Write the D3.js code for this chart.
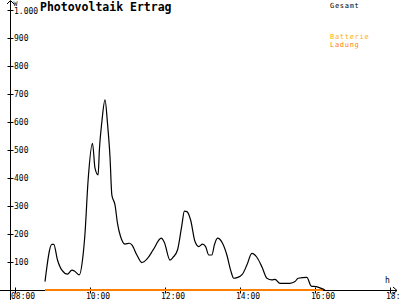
<!DOCTYPE html>
<html>
<head>
<meta charset="utf-8">
<script src="https://cdn.jsdelivr.net/npm/d3@7"></script>
<style>
  body { margin: 0; background: #fff; }
  svg { display: block; }
  text { font-family: "DejaVu Sans Mono", monospace; font-size: 8px; }
  .legend { font-size: 7px; letter-spacing: 0.7px; }
</style>
</head>
<body>
<div id="chart"></div>
<script>
// Gesamt (W)
const times = ["8:48","8:59","9:02","9:08","9:15","9:24","9:31","9:35","9:43","9:48",
  "9:52","9:57","10:04","10:08","10:13","10:15","10:19","10:24","10:28","10:32",
  "10:35","10:40","10:44","10:49","10:56","11:03","11:07","11:15","11:23","11:31",
  "11:41","11:54","11:59","12:08","12:13","12:20","12:27","12:31","12:35","12:41",
  "12:48","12:54","13:00","13:05","13:10","13:15","13:19","13:24","13:32","13:39",
  "13:45","13:50","13:55","14:04","14:11","14:19","14:27","14:35","14:43","14:51",
  "14:56","15:04","15:20","15:28","15:33","15:47","15:54","16:02","16:11","16:16"];
const gesamt = [30,163,163,107,71,57,71,68,54,107,
  202,393,524,435,411,500,601,679,595,476,
  339,304,238,190,164,167,161,125,98,110,
  143,185,170,107,117,143,232,282,280,250,
  173,155,164,155,125,125,161,185,167,125,
  71,42,44,57,89,131,117,83,42,36,
  38,24,24,30,42,45,14,12,5,0];

// Ladung (W), flat at zero
const ladungTimes = ["8:48","16:13"];
const ladung = [0, 0];

const xTicks = [8, 10, 12, 14, 16, 18];
const xTickLabels = ["08:00","10:00","12:00","14:00","16:00","18:00"];
const yTicks = [100,200,300,400,500,600,700,800,900,1000];
const yTickLabels = ["100","200","300","400","500","600","700","800","900","1.000"];

const toHours = s => { const p = s.split(":"); return +p[0] + +p[1] / 60; };

const svg = d3.select("#chart").append("svg")
  .attr("width", 400)
  .attr("height", 300);

const x = d3.scaleLinear().domain([8, 18]).range([15, 390]);
const y = d3.scaleLinear().domain([0, 1000]).range([290, 10]);

// axes lines
svg.append("line").attr("x1", 0).attr("x2", 397).attr("y1", 290.5).attr("y2", 290.5)
  .attr("stroke", "#000");
svg.append("line").attr("x1", 10.5).attr("x2", 10.5).attr("y1", 1).attr("y2", 300)
  .attr("stroke", "#000");
// arrow heads
svg.append("path").attr("d", "M7,4 L10.5,0.5 L14,4").attr("fill", "none").attr("stroke", "#000");
svg.append("path").attr("d", "M393,287 L397,290.5 L393,294").attr("fill", "none").attr("stroke", "#000");

// x ticks
const xAxis = svg.append("g")
  .attr("transform", "translate(0,290.5)")
  .call(d3.axisBottom(x).tickValues(xTicks).tickSize(3).tickFormat((d, i) => xTickLabels[i]));
xAxis.select(".domain").remove();
xAxis.selectAll(".tick line").attr("y1", -3).attr("y2", 3).attr("stroke", "#000");
xAxis.selectAll(".tick text")
  .attr("text-anchor", "start")
  .attr("dx", -4.5)
  .attr("y", 2.5)
  .attr("fill", "#000")
  .style("font-family", "'DejaVu Sans Mono', monospace")
  .style("font-size", "8px");

// y ticks
const yAxis = svg.append("g")
  .attr("transform", "translate(10.5,0)")
  .call(d3.axisRight(y).tickValues(yTicks).tickSize(3).tickFormat((d, i) => yTickLabels[i]));
yAxis.select(".domain").remove();
yAxis.selectAll(".tick line").attr("x1", -3).attr("x2", 3).attr("stroke", "#000");
yAxis.selectAll(".tick text")
  .attr("x", 3.5)
  .attr("fill", "#000")
  .style("font-family", "'DejaVu Sans Mono', monospace")
  .style("font-size", "8px");
yAxis.selectAll(".tick text").filter(d => d === 1000).attr("dy", "0.45em");

// unit labels
svg.append("text").attr("x", 13.5).attr("y", 5.5).style("font-size", "6.5px").text("W");
svg.append("text").attr("x", 385).attr("y", 283).text("h");

// series
const line = d3.line()
  .x(d => x(d.t))
  .y(d => y(d.v));

svg.append("path")
  .datum(ladungTimes.map((t, i) => ({ t: toHours(t), v: ladung[i] })))
  .attr("d", line)
  .attr("fill", "none")
  .attr("stroke", "#ff8000")
  .attr("stroke-width", 2);

svg.append("path")
  .datum(times.map((t, i) => ({ t: toHours(t), v: gesamt[i] })))
  .attr("d", line.curve(d3.curveMonotoneX))
  .attr("fill", "none")
  .attr("stroke", "#000")
  .attr("stroke-width", 1.2);

// title
svg.append("text")
  .attr("x", 40).attr("y", 11)
  .style("font-size", "11.5px")
  .style("font-weight", "bold")
  .text("Photovoltaik Ertrag");

// legend
svg.append("text").attr("class", "legend").attr("x", 330).attr("y", 7.5).attr("fill", "#000").text("Gesamt");
svg.append("text").attr("class", "legend").attr("x", 330).attr("y", 38.5).attr("fill", "#ffb000").text("Batterie");
svg.append("text").attr("class", "legend").attr("x", 330).attr("y", 46.5).attr("fill", "#ff8000").text("Ladung");
</script>
</body>
</html>
